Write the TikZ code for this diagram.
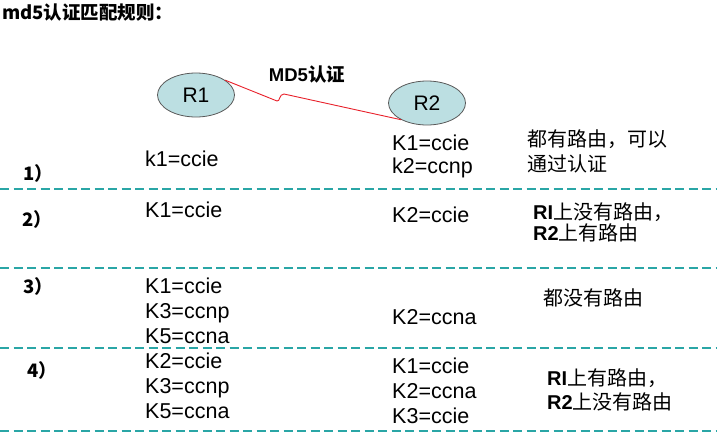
\documentclass[tikz,border=0pt]{standalone}
\usepackage{fontspec}
\setmainfont{Liberation Sans}
\newfontfamily\cjk{Noto Sans CJK SC}
\usetikzlibrary{shapes.geometric}
\definecolor{ellfill}{HTML}{BCDFE2}
\definecolor{dashc}{HTML}{2AA6A6}
\definecolor{linkred}{HTML}{E8202A}
\tikzset{
  router/.style={ellipse, draw=black!65, line width=0.8pt, fill=ellfill, minimum width=77pt, minimum height=44pt, inner sep=0pt, font=\fontsize{21}{25}\selectfont},
  kv/.style={anchor=base west, inner sep=0pt, font=\fontsize{21.5}{25}\selectfont},
  note/.style={anchor=west, inner sep=0pt, font=\fontsize{20}{23}\selectfont\cjk},
  num/.style={anchor=west, inner sep=0pt, font=\fontsize{18.5}{21}\selectfont\cjk\bfseries},
  sep/.style={dashc, line width=2pt, dash pattern=on 9pt off 4.5pt},
  link/.style={linkred, line width=0.9pt}
}
\begin{document}
\begin{tikzpicture}[x=1pt,y=-1pt]
\useasboundingbox (0,0) rectangle (717,434);
% title
\node[anchor=west, inner sep=0pt, font=\fontsize{18.5}{21}\selectfont\cjk\bfseries] (title) at (2,13) {md5认证匹配规则：};
% routers
\node[router] (r1) at (196,95) {R1};
\node[router] (r2) at (427,103) {R2};
\node[inner sep=0pt, font=\fontsize{18.5}{21}\selectfont\bfseries] (md5) at (307,75) {MD5{\cjk 认证}};
\coordinate (b1) at (277,101);
\coordinate (b2) at (284,94);
\draw[link] (r1.27) -- (b1) .. controls (280,102) and (279,94) .. (b2) -- (r2.213);
% separators
\coordinate (s1l) at (0,189); \coordinate (s1r) at (717,189);
\coordinate (s2l) at (0,268); \coordinate (s2r) at (717,268);
\coordinate (s3l) at (0,348); \coordinate (s3r) at (717,348);
\coordinate (s4l) at (0,431); \coordinate (s4r) at (717,431);
\draw[sep] (s1l) -- (s1r);
\draw[sep] (s2l) -- (s2r);
\draw[sep] (s3l) -- (s3r);
\draw[sep] (s4l) -- (s4r);
% numbers
\node[num] (n1) at (23,173) {1）};
\node[num] (n2) at (22,219) {2）};
\node[num] (n3) at (23,286) {3）};
\node[num] (n4) at (27,370) {4）};
% left column
\node[kv] (a1) at (145,166) {k1=ccie};
\node[kv] (a2) at (145,217) {K1=ccie};
\node[kv] (a3) at (145,293) {K1=ccie};
\node[kv] (a4) at (145,318) {K3=ccnp};
\node[kv] (a5) at (145,343) {K5=ccna};
\node[kv] (a6) at (145,368) {K2=ccie};
\node[kv] (a7) at (145,393) {K3=ccnp};
\node[kv] (a8) at (145,418) {K5=ccna};
% right column
\node[kv] (c1) at (392,150) {K1=ccie};
\node[kv] (c2) at (392,173) {k2=ccnp};
\node[kv] (c3) at (392,222) {K2=ccie};
\node[kv] (c4) at (392,324) {K2=ccna};
\node[kv] (c5) at (392,373) {K1=ccie};
\node[kv] (c6) at (392,398) {K2=ccna};
\node[kv] (c7) at (392,423) {K3=ccie};
% notes
\node[note] (d1) at (527,139) {都有路由，可以};
\node[note] (d2) at (527,164) {通过认证};
\node[note] (d3) at (533,212) {{\fontspec{Liberation Sans}\bfseries RI}上没有路由，};
\node[note] (d4) at (533,233) {{\fontspec{Liberation Sans}\bfseries R2}上有路由};
\node[note] (d5) at (543,298) {都没有路由};
\node[note] (d6) at (547,378) {{\fontspec{Liberation Sans}\bfseries RI}上有路由，};
\node[note] (d7) at (547,402) {{\fontspec{Liberation Sans}\bfseries R2}上没有路由};
\end{tikzpicture}
\end{document}
